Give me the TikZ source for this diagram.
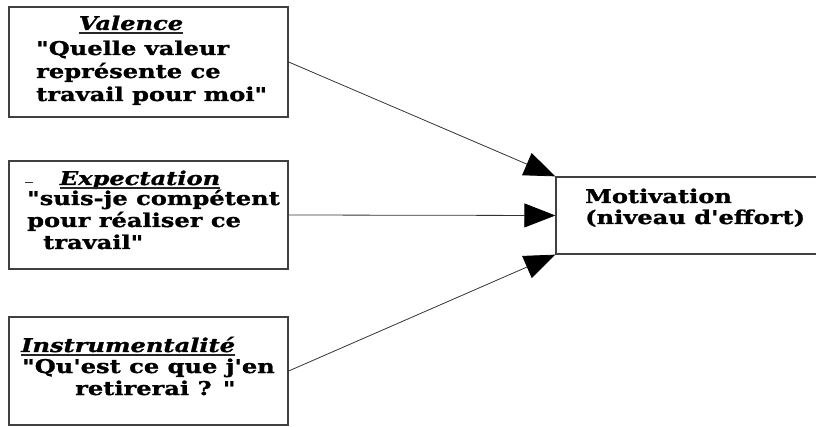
\documentclass[tikz,border=0pt]{standalone}
\usepackage{fontspec}
\newfontfamily\wideserif[FakeStretch=1.27,FakeBold=1.2]{DejaVu Serif}
\usetikzlibrary{arrows.meta}
\begin{document}
\begin{tikzpicture}[x=1pt,y=-1pt,
  box/.style={draw=black!75, line width=1.3pt, inner sep=0pt},
  txt/.style={anchor=base west, inner sep=0pt, font=\wideserif\fontsize{19}{24}\selectfont\bfseries},
  ttl/.style={anchor=base, inner sep=0pt, font=\wideserif\fontsize{19}{24}\selectfont\bfseries\itshape},
  uline/.style={draw=black!85, line width=1.1pt},
  link/.style={draw=black!80, line width=0.8pt, -{Triangle[length=31pt,width=24pt,color=black]}}]
  \useasboundingbox (0,0) rectangle (816,427);
  \clip (0,0) rectangle (816,427);
  % the three factor boxes and the motivation box
  \node[box, minimum width=279pt, minimum height=110pt] (val) at (148.5,62) {};
  \node[box, minimum width=279pt, minimum height=108pt] (exp) at (148.5,215) {};
  \node[box, minimum width=279pt, minimum height=108pt] (ins) at (148.5,371) {};
  \node[box, minimum width=280pt, minimum height=77pt] (mot) at (696,215.5) {};
  % Valence
  \node[ttl] (valt) at (131,30) {Valence};
  \draw[uline] ([yshift=-3pt]valt.base west) -- ([yshift=-3pt]valt.base east);
  \node[txt] (val1) at (36,55) {"Quelle valeur};
  \node[txt] (val2) at (36,78) {représente ce};
  \node[txt] (val3) at (36,101) {travail pour moi"};
  % Expectation
  \draw[black!80, line width=1pt] (25,183) -- (33,183);
  \node[ttl] (expt) at (140,185) {Expectation};
  \draw[uline] ([yshift=-3pt]expt.base west) -- ([yshift=-3pt]expt.base east);
  \node[txt] (exp1) at (27,205) {"suis-je compétent};
  \node[txt] (exp2) at (27,227) {pour réaliser ce};
  \node[txt] (exp3) at (43,249) {travail"};
  % Instrumentalite
  \node[ttl, anchor=base west] (inst) at (21,352) {Instrumentalité};
  \draw[uline] ([yshift=-3pt]inst.base west) -- ([yshift=-3pt]inst.base east);
  \node[txt] (ins1) at (22,373) {"Qu'est ce que j'en};
  \node[txt] (ins2) at (75,395) {retirerai ? "};
  % Motivation
  \node[txt] (mot1) at (585,203) {Motivation};
  \node[txt] (mot2) at (585,224) {(niveau d'effort)};
  % connectors
  \draw[link] (val.east) -- (mot.north west);
  \draw[link] (exp.east) -- (mot.west);
  \draw[link] (ins.east) -- (mot.south west);
\end{tikzpicture}
\end{document}
